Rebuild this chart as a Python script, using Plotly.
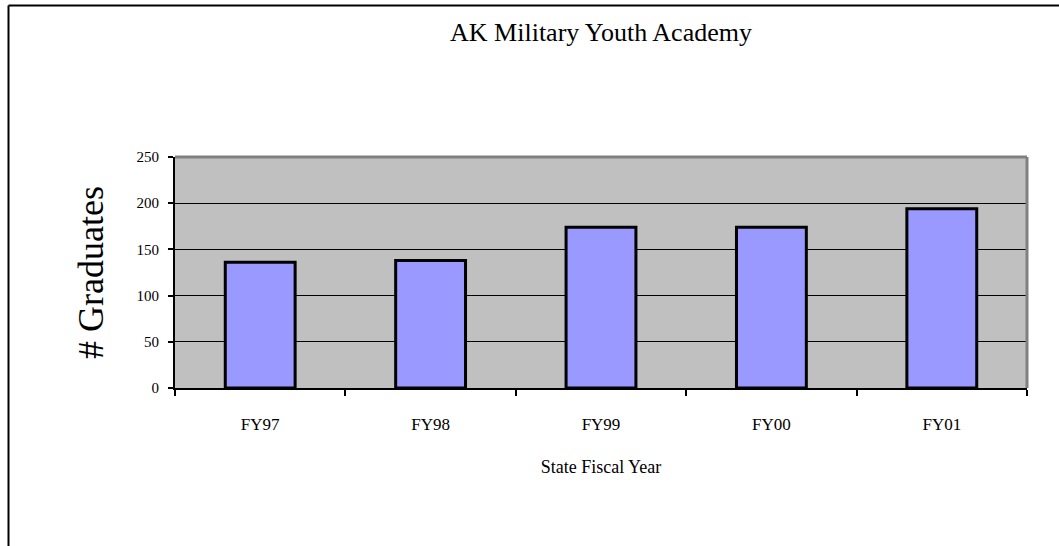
import plotly.graph_objects as go

categories = ["FY97", "FY98", "FY99", "FY00", "FY01"]
graduates = [136, 138, 174, 174, 194]
y_ticks = [0, 50, 100, 150, 200, 250]

W, H = 1059, 546
ML, MR, MT, MB = 175, 32, 157, 158
pw = W - ML - MR
ph = H - MT - MB

def px_x(p):
    return (p - ML) / pw

def px_y(p):
    return (H - MB - p) / ph

FONT = "Liberation Serif, Times New Roman, serif"

fig = go.Figure(go.Bar(
    x=categories, y=graduates,
    marker=dict(color="#9999FF", line=dict(color="black", width=3)),
    hoverinfo="x+y",
))

fig.update_layout(
    width=W, height=H,
    margin=dict(l=ML, r=MR, t=MT, b=MB),
    paper_bgcolor="white",
    plot_bgcolor="#C0C0C0",
    bargap=0.59,
    showlegend=False,
    font=dict(family=FONT, color="black"),
    title=dict(text="AK Military Youth Academy", x=0.5, xref="paper",
               xanchor="center", y=1 - 32 / H, yref="container", yanchor="middle",
               font=dict(family=FONT, size=26, color="black")),
)

fig.update_xaxes(
    type="category",
    tickson="boundaries",
    ticks="outside", ticklen=6, tickwidth=2, tickcolor="black",
    showline=True, linecolor="black", linewidth=2,
    showgrid=False,
    tickfont=dict(family=FONT, size=17, color="black"),
    ticklabelstandoff=20,
    title=dict(text="State Fiscal Year", font=dict(family=FONT, size=18, color="black"), standoff=27),
)
fig.update_yaxes(
    range=[0, 250],
    tickvals=y_ticks,
    ticks="outside", ticklen=5, tickwidth=2, tickcolor="black",
    showline=True, linecolor="black", linewidth=2,
    showgrid=True, gridcolor="black", gridwidth=1,
    zeroline=False,
    tickfont=dict(family=FONT, size=15, color="black"),
    ticklabelstandoff=6,
    title=dict(text="# Graduates", font=dict(family=FONT, size=36, color="black"), standoff=22),
)

# Gray top and right plot-area borders
fig.add_shape(type="line", xref="paper", yref="paper", x0=0, x1=1, y0=1, y1=1,
              line=dict(color="#808080", width=3))
fig.add_shape(type="line", xref="paper", yref="paper", x0=1, x1=1, y0=0, y1=1,
              line=dict(color="#808080", width=3))
# Outer chart frame (top and left edges visible)
fig.add_shape(type="line", xref="paper", yref="paper", x0=px_x(8.5), x1=px_x(W + 20),
              y0=px_y(5.5), y1=px_y(5.5), line=dict(color="black", width=2))
fig.add_shape(type="line", xref="paper", yref="paper", x0=px_x(8.5), x1=px_x(8.5),
              y0=px_y(5.5), y1=px_y(H + 20), line=dict(color="black", width=2))

fig.write_html("out.html", config={"displayModeBar": False},
               post_script="document.body.style.margin='0';")
